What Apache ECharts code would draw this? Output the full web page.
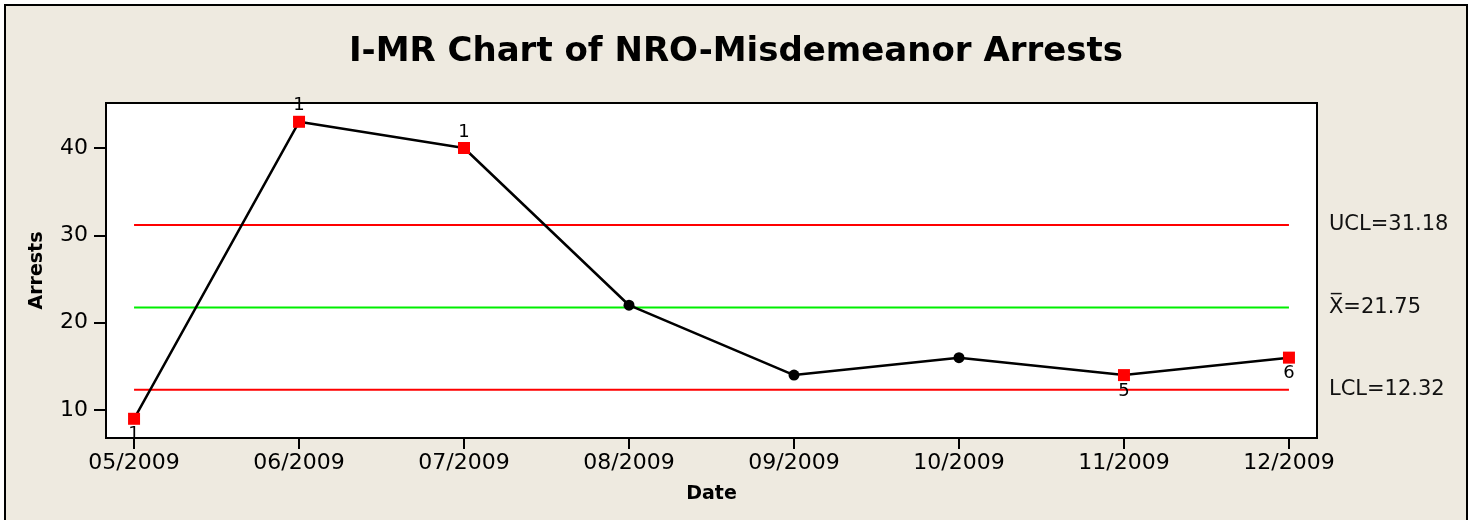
<!DOCTYPE html>
<html>
<head>
<meta charset="utf-8">
<script src="https://cdn.jsdelivr.net/npm/echarts@6/dist/echarts.min.js"></script>
<style>
  html, body { margin: 0; padding: 0; background: #fff; }
  #chart { width: 1472px; height: 520px; }
</style>
</head>
<body>
<div id="chart"></div>
<script>
const months = ["05/2009", "06/2009", "07/2009", "08/2009", "09/2009", "10/2009", "11/2009", "12/2009"];
const arrests = [9, 43, 40, 22, 14, 16, 14, 16];
// test number that flagged each point ("" = in control)
const testFlags = ["1", "1", "1", "", "", "", "5", "6"];
const ucl = 31.18;
const xBar = 21.75;
const lcl = 12.32;
const yTicks = [10, 20, 30, 40];

const FONT = "DejaVu Sans";
const chart = echarts.init(document.getElementById("chart"));

const points = arrests.map((v, i) => {
  const flag = testFlags[i];
  return {
    value: [i, v],
    symbol: flag ? "rect" : "circle",
    symbolSize: flag ? 12 : 11,
    itemStyle: { color: flag ? "#ff0000" : "#000" },
    label: {
      show: !!flag,
      formatter: flag,
      position: v < xBar ? "bottom" : "top",
      distance: 1
    }
  };
});

const limitLine = (name, val, color, text) => ({
  name: name,
  type: "line",
  data: [[0, val], [months.length - 1, val]],
  symbol: "none",
  silent: true,
  lineStyle: { color: color, width: 2 },
  endLabel: {
    show: true,
    distance: 40,
    formatter: text,
    color: "#111",
    fontFamily: FONT,
    fontSize: 21
  },
  z: 2
});

chart.setOption({
  animation: false,
  backgroundColor: "#fff",
  graphic: [
    {
      type: "rect",
      z: -10,
      shape: { x: 5, y: 5, width: 1462, height: 540 },
      style: { fill: "#eeeae0", stroke: "#000", lineWidth: 2 }
    }
  ],
  title: {
    text: "I-MR Chart of NRO-Misdemeanor Arrests",
    left: "center",
    top: 30,
    textStyle: { fontFamily: FONT, fontSize: 34, fontWeight: "bold", color: "#000" }
  },
  grid: {
    left: 106,
    top: 103,
    right: 155,
    bottom: 82,
    show: true,
    backgroundColor: "#fff",
    borderColor: "#000",
    borderWidth: 2
  },
  xAxis: {
    type: "value",
    min: -0.17,
    max: months.length - 1 + 0.17,
    name: "Date",
    nameLocation: "middle",
    nameGap: 47,
    nameTextStyle: { fontFamily: FONT, fontSize: 19, fontWeight: "bold", color: "#000" },
    splitLine: { show: false },
    axisLine: { onZero: false, lineStyle: { color: "#000", width: 2 } },
    axisTick: {
      customValues: months.map((m, i) => i),
      length: 11,
      lineStyle: { color: "#000", width: 2 }
    },
    axisLabel: {
      customValues: months.map((m, i) => i),
      formatter: v => months[Math.round(v)],
      margin: 14,
      fontFamily: FONT,
      fontSize: 22,
      color: "#000"
    }
  },
  yAxis: {
    type: "value",
    min: 6.8,
    max: 45.15,
    name: "Arrests",
    nameLocation: "middle",
    nameGap: 59,
    nameTextStyle: { fontFamily: FONT, fontSize: 19, fontWeight: "bold", color: "#000" },
    splitLine: { show: false },
    axisLine: { show: true, onZero: false, lineStyle: { color: "#000", width: 2 } },
    axisTick: {
      customValues: yTicks,
      length: 12,
      lineStyle: { color: "#000", width: 2 }
    },
    axisLabel: {
      customValues: yTicks,
      margin: 18,
      fontFamily: FONT,
      fontSize: 22,
      color: "#000"
    }
  },
  series: [
    limitLine("UCL", ucl, "#ff0000", "UCL=" + ucl.toFixed(2)),
    limitLine("Mean", xBar, "#00ee00", "X\u0305=" + xBar.toFixed(2)),
    limitLine("LCL", lcl, "#ff0000", "LCL=" + lcl.toFixed(2)),
    {
      name: "Arrests",
      type: "line",
      data: points,
      lineStyle: { color: "#000", width: 2.5 },
      label: { fontFamily: FONT, fontSize: 18, color: "#000" },
      z: 5
    }
  ]
});
</script>
</body>
</html>
